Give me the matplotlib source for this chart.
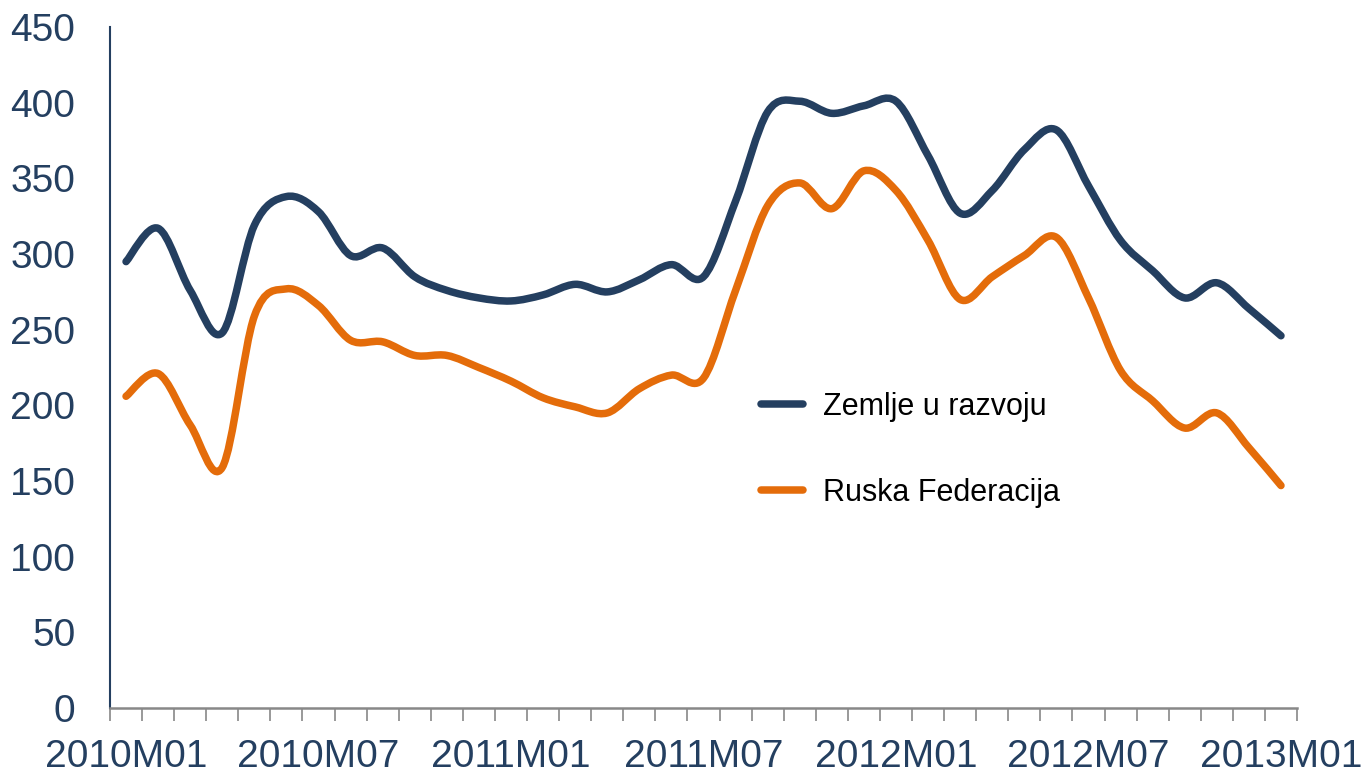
import numpy as np
import matplotlib.pyplot as plt
from matplotlib.path import Path
from matplotlib.patches import PathPatch
from matplotlib.lines import Line2D

months = [f'{y}M{m:02d}' for y in (2010, 2011, 2012) for m in range(1, 13)] + ['2013M01']
zemlje = [295, 317, 276, 248, 319, 338, 328, 299, 304, 285, 276, 271, 269, 273, 280, 275, 283, 293,
          285, 335, 394, 401, 393, 398, 401, 365, 327, 342, 369, 382, 345, 309, 289, 271, 281, 264, 246]
ruska = [206, 221, 187, 159, 259, 277, 266, 243, 242, 233, 233, 225, 216, 205, 199, 195, 211, 220,
         218, 276, 332, 347, 330, 355, 342, 309, 270, 285, 299, 311, 271, 223, 203, 185, 195, 172, 147]
labels = ['Zemlje u razvoju', 'Ruska Federacija']
colors = ['#243F60', '#E46C0A']

plt.rcParams['font.family'] = ['Liberation Sans', 'DejaVu Sans']


def smooth_path(x, y):
    # Excel-style smoothed line: Catmull-Rom segments as cubic Bezier curves
    p = np.column_stack([x, y]).astype(float)
    q = np.vstack([p[0], p, p[-1]])
    verts = [p[0]]
    codes = [Path.MOVETO]
    for i in range(len(p) - 1):
        p0, p1, p2, p3 = q[i], q[i + 1], q[i + 2], q[i + 3]
        verts += [p1 + (p2 - p0) / 6, p2 - (p3 - p1) / 6, p2]
        codes += [Path.CURVE4] * 3
    return Path(verts, codes)


fig = plt.figure(figsize=(13.63, 7.74), dpi=100)
ax = fig.add_axes([0.0807, 0.0853, 0.8709, 0.8797])
x = np.arange(len(months))
for vals, c in zip([zemlje, ruska], colors):
    ax.add_patch(PathPatch(smooth_path(x, vals), fill=False, edgecolor=c, lw=5.4,
                           capstyle='round', joinstyle='round'))

ax.set_xlim(-0.5, len(months) - 0.5)
ax.set_ylim(0, 450)
ax.set_yticks(range(0, 451, 50))
ax.tick_params(axis='y', length=0, pad=25, labelsize=28, labelcolor='#243F60')
ax.set_xticks(x[::6])
ax.set_xticklabels(months[::6])
ax.set_xticks(np.arange(-0.5, len(months)), minor=True)
ax.tick_params(axis='x', which='major', length=0, pad=22, labelsize=28, labelcolor='#243F60')
ax.tick_params(axis='x', which='minor', length=9, width=1.2, color='#888888')
for s in ['top', 'right']:
    ax.spines[s].set_visible(False)
ax.spines['left'].set_color('#243F60')
ax.spines['left'].set_linewidth(1.5)
ax.spines['bottom'].set_color('#888888')
ax.spines['bottom'].set_linewidth(1.8)

handles = [Line2D([], [], color=c, lw=5.4, solid_capstyle='round') for c in colors]
ax.legend(handles, labels, loc='upper left', bbox_to_anchor=(0.525, 0.505), frameon=False,
          fontsize=22, handlelength=1.4, labelspacing=1.85, handletextpad=0.65)

fig.savefig('out.png', dpi=100)
